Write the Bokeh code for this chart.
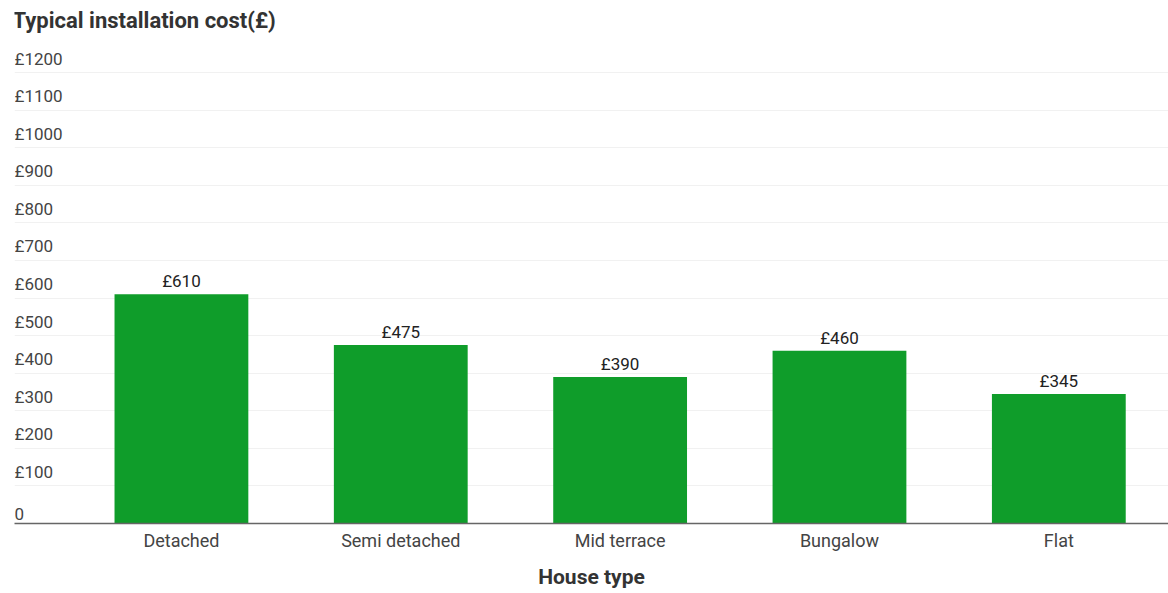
from bokeh.plotting import figure
from bokeh.models import Range1d, FixedTicker, ColumnDataSource
from bokeh.core.properties import value
from bokeh.embed import file_html
from bokeh.resources import INLINE

# ---- data ----
title_text = "Typical installation cost(£)"
categories = ["Detached", "Semi detached", "Mid terrace", "Bungalow", "Flat"]
costs = [610, 475, 390, 460, 345]
cost_labels = ["£610", "£475", "£390", "£460", "£345"]
y_ticks = [0, 100, 200, 300, 400, 500, 600, 700, 800, 900, 1000, 1100, 1200]
y_tick_labels = ["0", "£100", "£200", "£300", "£400", "£500", "£600",
                 "£700", "£800", "£900", "£1000", "£1100", "£1200"]

FONT = "Roboto"
xs = list(range(len(categories)))
x_start, x_end = -0.761, 4.5
y_start, y_end = 0, 1392

p = figure(width=1168, height=593, output_backend="svg", toolbar_location=None,
           x_range=Range1d(x_start, x_end), y_range=Range1d(y_start, y_end),
           y_axis_location=None, min_border_left=14, min_border_right=0,
           min_border_top=0, min_border_bottom=70)
p.outline_line_color = None
p.background_fill_color = "white"
p.border_fill_color = "white"

p.xgrid.grid_line_color = None
p.ygrid.ticker = FixedTicker(ticks=y_ticks[1:])
p.ygrid.grid_line_color = "#f1f1f1"

# title (drawn as text at the top-left corner of the frame)
p.text(x=[x_start], y=[y_end], text=[title_text], text_align="left",
       text_baseline="middle", x_offset=-2, y_offset=20, text_font=value(FONT),
       text_font_size="22px", text_font_style="bold", text_color="#333333")

src = ColumnDataSource(dict(x=xs, top=costs, lab=cost_labels))
p.vbar(x="x", top="top", width=0.61, source=src, fill_color="#0f9d2a",
       line_color=None)
p.text(x="x", y="top", text="lab", source=src, text_align="center",
       text_baseline="bottom", y_offset=-3, text_font=value(FONT),
       text_font_size="17px", text_color="#222222")

ysrc = ColumnDataSource(dict(x=[x_start] * len(y_ticks), y=y_ticks, lab=y_tick_labels))
p.text(x="x", y="y", text="lab", source=ysrc, text_align="left",
       text_baseline="bottom", y_offset=-4, text_font=value(FONT),
       text_font_size="17px", text_color="#444444")

ax = p.xaxis[0]
ax.ticker = FixedTicker(ticks=xs)
ax.major_label_overrides = {i: c for i, c in zip(xs, categories)}
ax.major_tick_line_color = None
ax.minor_tick_line_color = None
ax.axis_line_color = "#666666"
ax.axis_line_width = 1.5
ax.major_label_text_font = FONT
ax.major_label_text_font_size = "18px"
ax.major_label_text_color = "#444444"
ax.major_label_standoff = 0
ax.axis_label = "House type"
ax.axis_label_text_font = FONT
ax.axis_label_text_font_size = "21px"
ax.axis_label_text_font_style = "bold"
ax.axis_label_text_color = "#333333"
ax.axis_label_standoff = 11

open("out.html", "w").write(file_html(p, INLINE))
